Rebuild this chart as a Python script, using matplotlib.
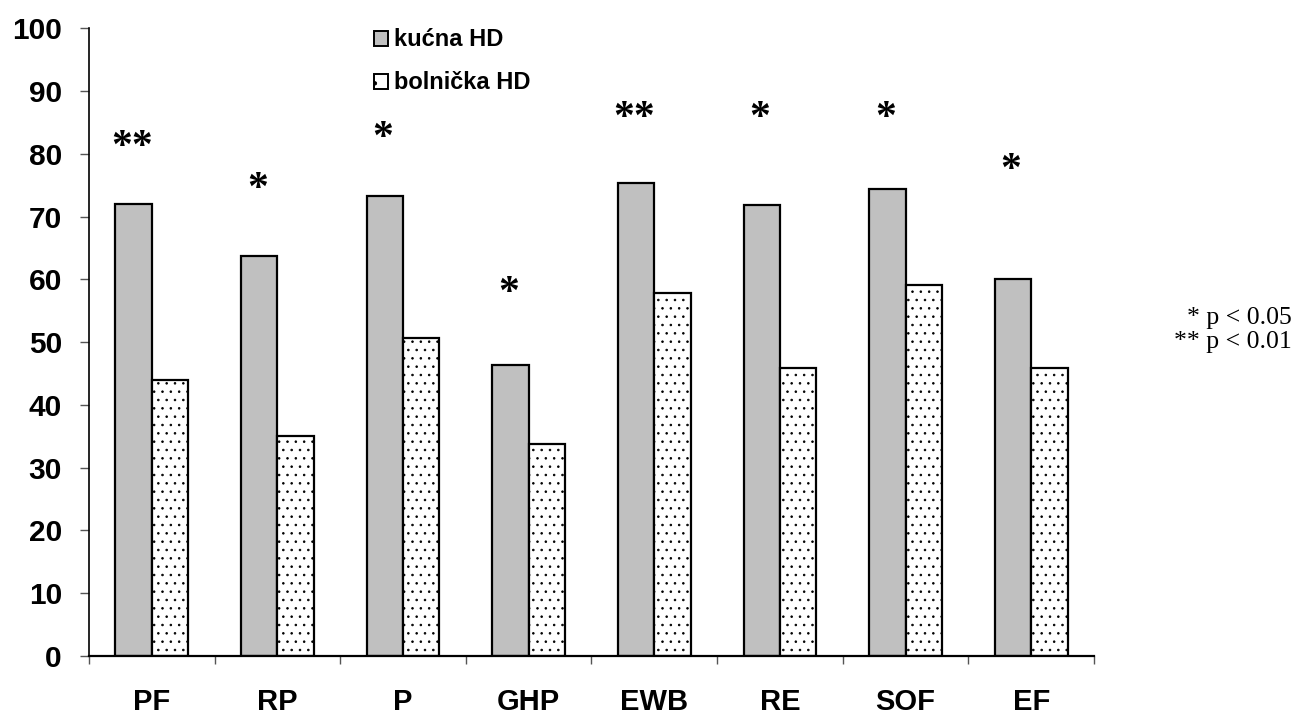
import matplotlib
matplotlib.use("Agg")
import matplotlib.pyplot as plt
from matplotlib.patches import Patch
import numpy as np

# SF-36 domain scores, home vs hospital haemodialysis
domains = ["PF", "RP", "P", "GHP", "EWB", "RE", "SOF", "EF"]
home_hd = [72.0, 63.8, 73.3, 46.3, 75.3, 71.8, 74.4, 60.1]
hospital_hd = [44.0, 35.0, 50.7, 33.8, 57.8, 45.9, 59.1, 45.9]
series_names = ["kućna HD", "bolnička HD"]

# significance markers and the height they sit at
stars = ["**", "*", "*", "*", "**", "*", "*", "*"]
star_y = [81.0, 74.3, 82.3, 57.6, 85.5, 85.5, 85.5, 77.3]

y_ticks = list(range(0, 101, 10))
note_lines = ["* p < 0.05", "** p < 0.01"]

plt.rcParams["font.family"] = ["Liberation Sans", "DejaVu Sans"]
plt.rcParams["hatch.color"] = "#444444"
plt.rcParams["hatch.linewidth"] = 0.6

fig = plt.figure(figsize=(12.97, 7.15), dpi=100)
ax = fig.add_axes([0.0686, 0.0825, 0.7749, 0.8779])

x = np.arange(len(domains))
w = 0.29
ax.bar(x - w / 2, home_hd, w, color="#c0c0c0", edgecolor="black", linewidth=1.6, zorder=2)
ax.bar(x + w / 2, hospital_hd, w, color="white", edgecolor="black", linewidth=1.6,
       hatch="..", zorder=2)

for xi, s, sy in zip(x, stars, star_y):
    ax.text(xi - 0.16, sy, s, ha="center", va="center", fontsize=30, fontweight="bold",
            family=["Liberation Serif", "DejaVu Serif"])

ax.set_xlim(-0.5, len(domains) - 0.5)
ax.set_ylim(0, 100)

ax.set_yticks(y_ticks)
ax.set_yticklabels([str(t) for t in y_ticks], fontsize=21.5, fontweight="bold")
ax.tick_params(axis="y", length=6.5, width=1, color="#555555", pad=13)

ax.set_xticks(np.arange(len(domains) + 1) - 0.5)
ax.set_xticklabels([])
ax.set_xticks(x, minor=True)
ax.set_xticklabels(domains, minor=True, fontsize=21, fontweight="bold")
ax.tick_params(axis="x", which="major", length=6, width=1, color="#555555")
ax.tick_params(axis="x", which="minor", length=0, pad=23)

for side in ["top", "right"]:
    ax.spines[side].set_visible(False)
ax.spines["left"].set_linewidth(1.2)
ax.spines["bottom"].set_linewidth(1.6)

handles = [
    Patch(facecolor="#c0c0c0", edgecolor="black", linewidth=1.4),
    Patch(facecolor="white", edgecolor="black", linewidth=1.4, hatch="."),
]
fig.legend(handles, series_names, loc="upper left", bbox_to_anchor=(0.272, 0.99),
           frameon=False, handlelength=0.6, handleheight=0.6, handletextpad=0.25,
           labelspacing=0.85, prop={"size": 17, "weight": "bold"})

fig.text(0.996, 0.538, "\n".join(note_lines), ha="right", va="center", fontsize=18.5,
         family=["Liberation Serif", "DejaVu Serif"], linespacing=1.12)

fig.savefig("out.png", dpi=100)
